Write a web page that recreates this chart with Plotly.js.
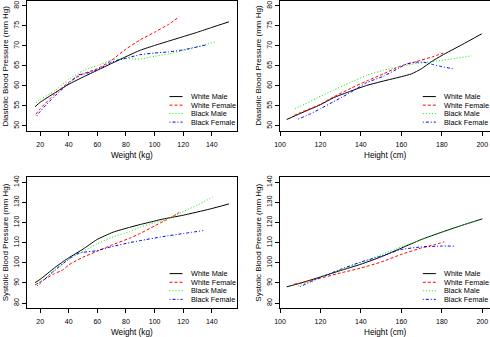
<!DOCTYPE html>
<html>
<head>
<meta charset="utf-8">
<script src="https://cdn.plot.ly/plotly-3.0.1.min.js"></script>
<style>html,body{margin:0;padding:0;background:#fff;}#chart{width:490px;height:337px;}</style>
</head>
<body>
<div id="chart"></div>
<script>
// ---------- Data ----------
const seriesNames = ["White Male", "White Female", "Black Male", "Black Female"];

// Panel 1: Diastolic BP vs Weight
const dbpWt_WM_x = [16.5, 20, 30, 40, 50, 60, 70, 80, 90, 100, 110, 120, 130, 140, 152];
const dbpWt_WM_y = [54.8, 55.9, 58.2, 60.4, 62.2, 63.9, 65.6, 67.3, 68.9, 70.1, 71.2, 72.3, 73.4, 74.6, 76.0];
const dbpWt_WF_x = [17, 20, 30, 40, 50, 60, 70, 80, 90, 100, 110, 117.3];
const dbpWt_WF_y = [52.9, 54.3, 57.9, 60.9, 63.0, 64.3, 66.4, 69.2, 71.5, 73.4, 75.4, 77.3];
const dbpWt_BM_x = [17, 20, 30, 40, 50, 60, 70, 80, 90, 100, 110, 120, 130, 142.8];
const dbpWt_BM_y = [55.8, 56.6, 58.7, 61.6, 63.8, 65.1, 66.4, 66.8, 66.7, 67.4, 68.0, 68.8, 69.8, 71.0];
const dbpWt_BF_x = [17.7, 20, 30, 40, 47, 50, 60, 70, 80, 90, 100, 110, 120, 135.8];
const dbpWt_BF_y = [52.5, 53.6, 57.4, 60.6, 62.8, 62.9, 64.0, 65.9, 66.9, 67.8, 68.2, 68.5, 69.0, 70.2];

// Panel 2: Diastolic BP vs Height
const dbpHt_WM_x = [103.3, 110, 120, 126.3, 135, 142.8, 151.1, 160, 165, 170, 175, 180, 190, 199.7];
const dbpHt_WM_y = [51.6, 53.1, 55.3, 57.0, 58.7, 60.1, 61.2, 62.3, 63.0, 64.3, 66.1, 67.6, 70.3, 73.0];
const dbpHt_WF_x = [106.9, 110, 120, 126.3, 135, 142.8, 151.1, 159.3, 167.6, 175, 180.7];
const dbpHt_WF_y = [52.6, 53.3, 55.4, 57.2, 59.4, 61.2, 63.0, 64.9, 66.1, 67.2, 68.2];
const dbpHt_BM_x = [107.4, 110, 118.1, 126.3, 134.6, 142.8, 151.1, 159.3, 167.6, 180.7, 194.8];
const dbpHt_BM_y = [54.3, 54.9, 56.9, 58.9, 60.8, 62.6, 63.9, 64.8, 65.6, 66.4, 67.5];
const dbpHt_BF_x = [109, 115, 120, 126.3, 130, 135, 142.8, 151.1, 159.3, 162.6, 167.6, 171, 175.8, 180, 186.3];
const dbpHt_BF_y = [51.7, 53.0, 54.3, 56.0, 57.0, 58.4, 60.8, 62.4, 64.6, 65.5, 65.9, 65.9, 65.3, 64.8, 64.2];

// Panel 3: Systolic BP vs Weight
const sbpWt_WM_x = [16.5, 20, 30, 36.2, 40, 50, 59.4, 71, 82.6, 90, 100, 105.8, 120, 138.3, 152];
const sbpWt_WM_y = [90.2, 91.8, 97.5, 100.7, 102.5, 106.8, 111.4, 115.2, 117.6, 119.0, 120.7, 121.7, 123.6, 126.6, 129.2];
const sbpWt_WF_x = [16.5, 18.8, 30, 36.2, 40, 50, 59.4, 70, 82.6, 90, 100, 105.8, 115.1, 117.3];
const sbpWt_WF_y = [89.0, 90.0, 94.6, 96.6, 99.0, 102.8, 105.6, 108.8, 112.2, 114.6, 118.3, 120.4, 124.0, 125.0];
const sbpWt_BM_x = [17, 20, 30, 40, 47.8, 59.4, 70, 82.6, 90, 100, 105.8, 120, 130, 140.5];
const sbpWt_BM_y = [89.4, 90.5, 95.9, 101.7, 104.8, 109.3, 112.6, 115.5, 117.7, 120.0, 120.9, 125.4, 128.6, 132.6];
const sbpWt_BF_x = [17.7, 20, 30, 40, 45, 50, 59.4, 70, 82.6, 90, 105.8, 120, 134];
const sbpWt_BF_y = [88.5, 89.8, 96.3, 101.8, 104.3, 105.2, 106.0, 108.0, 110.0, 111.0, 113.0, 114.5, 116.0];

// Panel 4: Systolic BP vs Height
const sbpHt_WM_x = [103.3, 110, 120, 130, 140, 150, 160, 170, 180, 190, 200];
const sbpHt_WM_y = [88.1, 89.9, 93.0, 96.2, 99.3, 103.0, 107.3, 111.6, 115.2, 118.6, 121.8];
const sbpHt_WF_x = [106.9, 110, 120, 130, 140, 150, 160, 170, 176, 181.2];
const sbpHt_WF_y = [89.4, 90.0, 92.4, 95.0, 97.4, 100.4, 104.2, 107.4, 108.9, 110.4];
const sbpHt_BM_x = [109, 120, 130, 140, 150, 160, 170, 180, 190, 198.8];
const sbpHt_BM_y = [88.5, 92.7, 96.4, 100.1, 104.0, 108.0, 111.5, 115.2, 118.6, 121.4];
const sbpHt_BF_x = [109.9, 120, 130, 140, 150, 160, 170, 180, 186.2];
const sbpHt_BF_y = [88.2, 92.7, 96.8, 100.4, 103.3, 106.6, 107.9, 108.3, 108.3];

const xTicksWeight = [20, 40, 60, 80, 100, 120, 140];
const xTicksHeight = [100, 120, 140, 160, 180, 200];
const yTicksDbp = [50, 55, 60, 65, 70, 75, 80];
const yTicksSbp = [80, 90, 100, 110, 120, 130, 140];

const xTitles = ["Weight (kg)", "Height (cm)", "Weight (kg)", "Height (cm)"];
const yTitles = ["Diastolic Blood Pressure (mm Hg)", "Diastolic Blood Pressure (mm Hg)",
                 "Systolic Blood Pressure (mm Hg)", "Systolic Blood Pressure (mm Hg)"];

// ---------- Styles ----------
const colors = ["#000000", "#FF0000", "#00EE00", "#0000FF"];
const dashes = ["solid", "3px,2px", "1px,2px", "1px,2px,3px,2px"];
const FONT = "Liberation Sans, Arial, Helvetica, sans-serif";

const panels = [
  {xs: [dbpWt_WM_x, dbpWt_WF_x, dbpWt_BM_x, dbpWt_BF_x], ys: [dbpWt_WM_y, dbpWt_WF_y, dbpWt_BM_y, dbpWt_BF_y]},
  {xs: [dbpHt_WM_x, dbpHt_WF_x, dbpHt_BM_x, dbpHt_BF_x], ys: [dbpHt_WM_y, dbpHt_WF_y, dbpHt_BM_y, dbpHt_BF_y]},
  {xs: [sbpWt_WM_x, sbpWt_WF_x, sbpWt_BM_x, sbpWt_BF_x], ys: [sbpWt_WM_y, sbpWt_WF_y, sbpWt_BM_y, sbpWt_BF_y]},
  {xs: [sbpHt_WM_x, sbpHt_WF_x, sbpHt_BM_x, sbpHt_BF_x], ys: [sbpHt_WM_y, sbpHt_WF_y, sbpHt_BM_y, sbpHt_BF_y]}
];

const W = 490, H = 337;
// panel boxes in pixels: [left, right, top, bottom]
const boxes = [[26.7, 236.7, 1, 130.7], [280, 490, 1, 130.7], [26.7, 236.7, 177.3, 308], [280, 490, 177.3, 308]];
const xRanges = [[10.6, 157.4], [100, 203.8], [10.6, 157.4], [100, 203.8]];
const yRanges = [[48.8, 81.2], [48.8, 81.2], [77.6, 142.4], [77.6, 142.4]];
const xTickSets = [xTicksWeight, xTicksHeight, xTicksWeight, xTicksHeight];
const yTickSets = [yTicksDbp, yTicksDbp, yTicksSbp, yTicksSbp];

const traces = [];
const layout = {
  width: W, height: H,
  margin: {l: 0, r: 0, t: 0, b: 0},
  paper_bgcolor: "#fff", plot_bgcolor: "#fff",
  showlegend: false,
  font: {family: FONT, color: "#000"},
  shapes: [], annotations: []
};

panels.forEach((p, i) => {
  const k = i === 0 ? "" : String(i + 1);
  const [l, r, t, b] = boxes[i];
  p.xs.forEach((xv, s) => {
    traces.push({
      type: "scatter", mode: "lines", x: xv, y: p.ys[s], name: seriesNames[s],
      xaxis: "x" + k, yaxis: "y" + k, line: {color: colors[s], width: 1, dash: dashes[s], shape: "spline", smoothing: 0.5},
      hoverinfo: "skip"
    });
  });
  const common = {showline: true, mirror: true, linecolor: "#000", linewidth: 1, showgrid: false, zeroline: false,
                  ticks: "outside", ticklen: 4, tickwidth: 1, tickcolor: "#000", tickfont: {family: FONT, size: 7, color: "#000"}};
  layout["xaxis" + k] = Object.assign({}, common, {
    domain: [l / W, r / W], range: xRanges[i], anchor: "y" + k, tickmode: "array", tickvals: xTickSets[i],
    ticklabelstandoff: 3
  });
  layout["yaxis" + k] = Object.assign({}, common, {
    domain: [1 - b / H, 1 - t / H], range: yRanges[i], anchor: "x" + k, tickmode: "array", tickvals: yTickSets[i],
    tickangle: -90
  });
  // axis titles
  layout.annotations.push({xref: "paper", yref: "paper", x: ((l + r) / 2) / W, y: 1 - (b + 24.5) / H,
    text: xTitles[i], showarrow: false, xanchor: "center", yanchor: "middle", font: {family: FONT, size: 8.2, color: "#000"}});
  layout.annotations.push({xref: "paper", yref: "paper", x: (l - 21) / W, y: 1 - ((t + b) / 2) / H,
    text: yTitles[i], textangle: -90, showarrow: false, xanchor: "center", yanchor: "middle", font: {family: FONT, size: 8, color: "#000"}});
  // legend (bottom-right, no box)
  const rows = [0.263, 0.197, 0.132, 0.066];
  seriesNames.forEach((nm, s) => {
    layout.shapes.push({type: "line", xref: "x" + k + " domain", yref: "y" + k + " domain",
      x0: 0.68, x1: 0.742, y0: rows[s], y1: rows[s], line: {color: colors[s], width: 1, dash: dashes[s]}});
    layout.annotations.push({xref: "x" + k + " domain", yref: "y" + k + " domain", x: 0.771, y: rows[s],
      text: nm, showarrow: false, xanchor: "left", yanchor: "middle", font: {family: FONT, size: 7.3, color: "#000"}});
  });
});

Plotly.newPlot("chart", traces, layout, {staticPlot: true, displayModeBar: false});
</script>
</body>
</html>
